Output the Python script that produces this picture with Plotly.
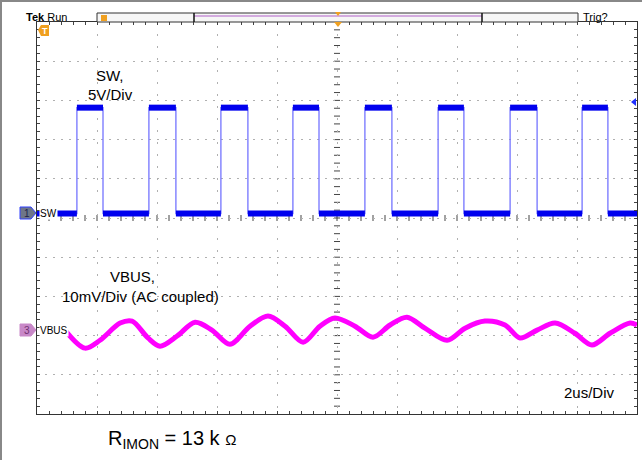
import plotly.graph_objects as go

# ---------------- data ----------------
# time axis: microseconds, 2 us/div, 10 divisions, trigger at centre
TIME_RANGE = [-10, 10]
# SW switching node (channel 1, 5 V/div)
sw_rise_us = [-8.67, -6.27, -3.87, -1.47, 0.93, 3.37, 5.77, 8.17]
sw_fall_us = [-7.80, -5.37, -2.97, -0.60, 1.83, 4.23, 6.67, 9.03]
sw_low_v = 0.0
sw_high_v = 13.5
# VBUS ripple (channel 3, 10 mV/div, AC coupled)
vbus_t_us = [-9.07, -8.40, -7.90, -7.23, -6.83, -6.30, -5.90, -5.33, -4.73, -4.17,
             -3.57, -2.90, -2.30, -1.73, -1.13, -0.57, -0.07, 0.60, 1.20, 1.77,
             2.33, 2.93, 3.67, 4.27, 4.93, 5.60, 6.10, 6.67, 7.27, 7.93,
             8.50, 9.10, 9.77, 10.0]
vbus_mv = [0.0, -4.6, -2.6, 1.8, 2.3, -2.0, -4.1, -1.5, 2.0, 0.0,
           -3.6, 1.0, 3.6, 1.0, -3.1, 1.0, 3.1, 1.0, -1.8, 1.3,
           3.3, 0.5, -2.6, 0.5, 2.3, 1.3, -2.0, 0.0, 1.8, -0.8,
           -3.8, -0.8, 1.8, 1.3]

# channel settings (scale per division, position in divisions from centre)
SW_SCALE, SW_POS = 5.0, 0.115
VBUS_SCALE, VBUS_POS = 10.0, -2.86
NDIV = 10
MINOR = 5  # minor ticks per division

# ---------------- geometry helpers (layout only) ----------------
W, H = 642, 460
L, R, T, B = 37, 5, 22, 46
PW, PH = W - L - R, H - T - B


def px(x):
    return (x - L) / PW


def py(y):
    return (H - B - y) / PH


# ---------------- build traces ----------------
sw_t = [TIME_RANGE[0]]
sw_v = [sw_low_v]
for r, f in zip(sw_rise_us, sw_fall_us):
    sw_t += [r, r, f, f]
    sw_v += [sw_low_v, sw_high_v, sw_high_v, sw_low_v]
sw_t.append(TIME_RANGE[1])
sw_v.append(sw_low_v)

lvl_t, lvl_v = [], []
prev = TIME_RANGE[0]
for r, f in zip(sw_rise_us, sw_fall_us):
    lvl_t += [prev, r, None, r, f, None]
    lvl_v += [sw_low_v, sw_low_v, None, sw_high_v, sw_high_v, None]
    prev = f
lvl_t += [prev, TIME_RANGE[1]]
lvl_v += [sw_low_v, sw_low_v]

fig = go.Figure()
fig.add_trace(go.Scatter(x=sw_t, y=sw_v, mode="lines", yaxis="y2",
                         line=dict(color="#7474ff", width=1.3), hoverinfo="skip"))
fig.add_trace(go.Scatter(x=lvl_t, y=lvl_v, mode="lines", yaxis="y2",
                         line=dict(color="#0000ee", width=6), hoverinfo="skip"))
fig.add_trace(go.Scatter(x=vbus_t_us, y=vbus_mv, mode="lines", yaxis="y3",
                         line=dict(color="#ff00ff", width=5, shape="spline", smoothing=0.9),
                         hoverinfo="skip"))

GRID = "#b0b0b0"
TICK = "#444444"
FRAME = "#333333"
half = NDIV / 2
xdiv = (TIME_RANGE[1] - TIME_RANGE[0]) / NDIV
sw_range = [(-half - SW_POS) * SW_SCALE, (half - SW_POS) * SW_SCALE]
vb_range = [(-half - VBUS_POS) * VBUS_SCALE, (half - VBUS_POS) * VBUS_SCALE]

fig.update_layout(
    width=W, height=H,
    margin=dict(l=L, r=R, t=T, b=B),
    paper_bgcolor="white", plot_bgcolor="white",
    showlegend=False,
    font=dict(family="Liberation Sans, Arial, sans-serif", color="black"),
    xaxis=dict(range=TIME_RANGE, dtick=xdiv, tick0=0, showticklabels=False,
               showgrid=True, gridcolor=GRID, gridwidth=1, griddash="2px,10px",
               zeroline=False, showline=True, linecolor=FRAME, linewidth=1,
               mirror="allticks", ticks="inside", ticklen=3, tickcolor=TICK,
               minor=dict(dtick=xdiv / MINOR, ticks="inside", ticklen=3, tickcolor=TICK, showgrid=False),
               fixedrange=True),
    yaxis=dict(range=[-half, half], dtick=1, tick0=0, showticklabels=False,
               showgrid=True, gridcolor=GRID, gridwidth=1, griddash="2px,6px",
               zeroline=False, showline=True, linecolor=FRAME, linewidth=1,
               mirror="allticks", ticks="inside", ticklen=3, tickcolor=TICK,
               minor=dict(dtick=1 / MINOR, ticks="inside", ticklen=3, tickcolor=TICK, showgrid=False),
               fixedrange=True),
    yaxis2=dict(range=sw_range, overlaying="y", visible=False, fixedrange=True),
    yaxis3=dict(range=vb_range, overlaying="y", visible=False, fixedrange=True),
)

shapes = []
# centre-cross graticule ticks
for k in range(-NDIV * MINOR // 2 + 1, NDIV * MINOR // 2):
    shapes.append(dict(type="line", xref="paper", yref="y", x0=0.5 - 3 / PW, x1=0.5 + 3 / PW,
                       y0=k / MINOR, y1=k / MINOR, line=dict(color=TICK, width=1), layer="below"))
    shapes.append(dict(type="line", xref="x", yref="paper", x0=k * xdiv / MINOR, x1=k * xdiv / MINOR,
                       y0=0.5 - 3 / PH, y1=0.5 + 3 / PH, line=dict(color=TICK, width=1), layer="below"))
# outer screenshot border (top & left)
shapes.append(dict(type="line", xref="paper", yref="paper", x0=px(0), x1=px(W), y0=py(1), y1=py(1),
                   line=dict(color="#888888", width=2)))
shapes.append(dict(type="line", xref="paper", yref="paper", x0=px(1), x1=px(1), y0=py(0), y1=py(H),
                   line=dict(color="#888888", width=2)))
# record view bar
shapes.append(dict(type="rect", xref="paper", yref="paper", x0=px(97), x1=px(578), y0=py(22), y1=py(13),
                   line=dict(color="#333333", width=1), fillcolor="#f6f6f6"))
shapes.append(dict(type="line", xref="paper", yref="paper", x0=px(194), x1=px(482), y0=py(16), y1=py(16),
                   line=dict(color="#b060c8", width=1)))
for xx in (194, 482):
    shapes.append(dict(type="line", xref="paper", yref="paper", x0=px(xx), x1=px(xx), y0=py(22), y1=py(13),
                       line=dict(color="#111111", width=1.5)))
shapes.append(dict(type="rect", xref="paper", yref="paper", x0=px(101), x1=px(107), y0=py(21), y1=py(15),
                   line=dict(width=0), fillcolor="#f0a020"))
shapes.append(dict(type="path", xref="paper", yref="paper",
                   path=f"M {px(335)},{py(12)} L {px(341)},{py(12)} L {px(338)},{py(16)} Z",
                   line=dict(width=0), fillcolor="#f0a020"))
shapes.append(dict(type="path", xref="paper", yref="paper",
                   path=f"M {px(334)},{py(22)} L {px(342)},{py(22)} L {px(338)},{py(27)} Z",
                   line=dict(width=0), fillcolor="#f0a020"))
shapes.append(dict(type="path", xref="paper", yref="paper",
                   path=f"M {px(631)},{py(102)} L {px(636)},{py(98)} L {px(636)},{py(106)} Z",
                   line=dict(width=0), fillcolor="#2030ff"))
# channel markers (pentagon flags)
for yc, fill, edge in ((213, "#6e7688", "#3040ff"), (330, "#c888c8", "#c888c8")):
    shapes.append(dict(type="path", xref="paper", yref="paper",
                       path=(f"M {px(20)},{py(yc - 6)} L {px(31)},{py(yc - 6)} L {px(36)},{py(yc)} "
                             f"L {px(31)},{py(yc + 6)} L {px(20)},{py(yc + 6)} Z"),
                       line=dict(color=edge, width=1), fillcolor=fill))
# orange "T" flag
shapes.append(dict(type="path", xref="paper", yref="paper",
                   path=(f"M {px(38)},{py(30)} L {px(41)},{py(25)} L {px(49)},{py(25)} "
                         f"L {px(49)},{py(36)} L {px(41)},{py(36)} Z"),
                   line=dict(width=0), fillcolor="#f0a020"))
fig.update_layout(shapes=shapes)

ann = []


def text(x, y, s, size=15, xanchor="center", **kw):
    ann.append(dict(xref="paper", yref="paper", x=px(x), y=py(y), text=s, showarrow=False,
                    xanchor=xanchor, yanchor="middle", font=dict(size=size, color=kw.pop("color", "black")),
                    **kw))


text(24, 17, "<b>Tek</b> Run", size=11, xanchor="left")
text(581, 17, "Trig?", size=11, xanchor="left")
text(45, 31, "<b>T</b>", size=9, color="white")
text(27, 213, "1", size=10, color="#20204a")
text(39, 213, "SW", size=10, xanchor="left", bgcolor="white", borderpad=0)
text(27, 330, "3", size=10, color="#703070")
text(39, 330, "VBUS", size=10, xanchor="left", bgcolor="white", borderpad=0)
text(110, 75, "SW,", size=15)
text(110, 95, "5V/Div", size=15)
text(132, 276, "VBUS,", size=15)
text(140, 297, "10mV/Div (AC coupled)", size=15)
text(589, 392, "2us/Div", size=15)
text(106, 439, "R<sub>IMON</sub> = 13 k <span style='font-size:15px'>Ω</span>", size=20, xanchor="left")
fig.update_layout(annotations=ann)

fig.write_html("out.html", config={"displayModeBar": False},
               post_script="document.body.style.margin='0px';")
